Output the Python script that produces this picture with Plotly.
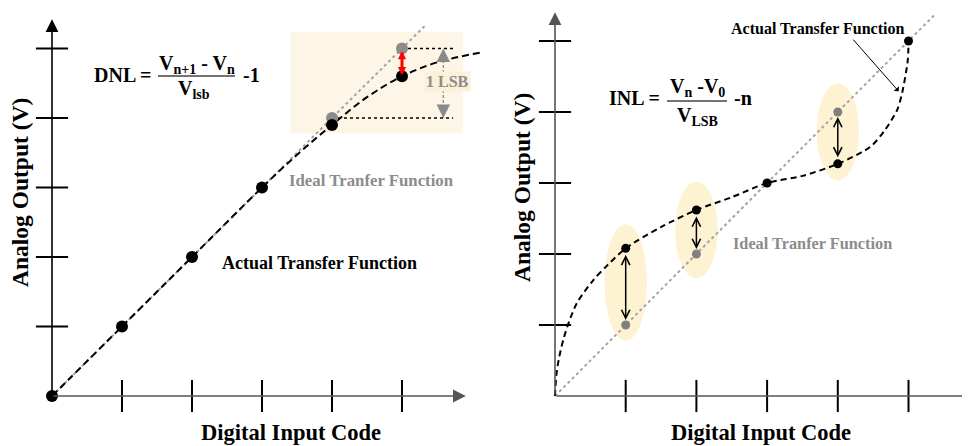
import plotly.graph_objects as go

# page body has an 8px margin: shift everything by OFF
OFF = 8
W, H = 970 - OFF, 446 - OFF

# ---------------- data ----------------
TICKS = [1, 2, 3, 4, 5]

# Left panel (DNL)
DNL_ACTUAL_X = [0, 1, 2, 3, 4, 5]
DNL_ACTUAL_Y = [0, 1, 2, 3, 3.9, 4.6]
DNL_CURVE_X = [0, 1, 2, 3, 3.5, 4, 4.5, 5, 5.5, 6.11]
DNL_CURVE_Y = [0, 1, 2, 3, 3.47, 3.9, 4.3, 4.6, 4.8, 4.94]
DNL_IDEAL_LINE = [0, 5.35]
DNL_IDEAL_PTS_X = [4, 5]
DNL_IDEAL_PTS_Y = [4, 5]
LSB_LEVELS = [4, 5]

# Right panel (INL)
INL_IDEAL_LINE = [0, 5.37]
INL_IDEAL_PTS_X = [1, 2, 4]
INL_IDEAL_PTS_Y = [1, 2, 4]
INL_ACTUAL_X = [1, 2, 3, 4, 5]
INL_ACTUAL_Y = [2.08, 2.62, 3.0, 3.27, 5.0]
INL_CURVE_X = [0, 0.02, 0.06, 0.12, 0.2, 0.31, 0.54, 0.75, 1.0, 1.5, 2.0, 2.5, 3.0, 3.5, 4.0, 4.46, 4.67, 4.84, 4.91, 4.99, 5.0]
INL_CURVE_Y = [0, 0.3, 0.55, 0.8, 1.05, 1.31, 1.63, 1.85, 2.08, 2.38, 2.62, 2.8, 3.0, 3.1, 3.27, 3.51, 3.75, 4.03, 4.27, 4.73, 5.0]

FONT = "Liberation Serif"
GRAY_TXT = "#8C8C8C"
IDEAL_COL = "#A4A4A4"

fig = go.Figure()

def px(x):
    return (x - OFF) / W

def py(y):
    return 1 - (y - OFF) / H

# ---------- axes mapping (reference pixel coordinates) ----------
L_X0, L_Y0, L_SX, L_SY = 52, 396, 70.0, 69.5
R_X0, R_Y0, R_SX, R_SY = 555, 396, 70.7, 71.0
SPLIT = 485

fig.update_layout(
    width=W, height=H,
    margin=dict(l=0, r=0, t=0, b=0),
    paper_bgcolor="white", plot_bgcolor="white",
    showlegend=False,
    xaxis=dict(domain=[0, px(SPLIT)], range=[(OFF - L_X0) / L_SX, (SPLIT - L_X0) / L_SX], visible=False, fixedrange=True),
    yaxis=dict(domain=[0, 1], range=[(L_Y0 - 446) / L_SY, (L_Y0 - OFF) / L_SY], visible=False, fixedrange=True),
    xaxis2=dict(domain=[px(SPLIT), 1], range=[(SPLIT - R_X0) / R_SX, (970 - R_X0) / R_SX], visible=False, fixedrange=True, anchor="y2"),
    yaxis2=dict(domain=[0, 1], range=[(R_Y0 - 446) / R_SY, (R_Y0 - OFF) / R_SY], visible=False, fixedrange=True, anchor="x2"),
)

shapes = []
ann = []

# ---------- LEFT PANEL ----------
shapes.append(dict(type="rect", xref="x", yref="y", x0=3.41, x1=5.87, y0=3.78, y1=5.24,
                   fillcolor="#FDF6E6", line=dict(width=0), layer="below"))

fig.add_trace(go.Scatter(x=DNL_IDEAL_LINE, y=DNL_IDEAL_LINE, mode="lines",
                         line=dict(color=IDEAL_COL, width=2, dash="3px,3px"),
                         xaxis="x", yaxis="y", hoverinfo="skip"))
fig.add_trace(go.Scatter(x=DNL_CURVE_X, y=DNL_CURVE_Y, mode="lines", line_shape="spline",
                         line=dict(color="black", width=2, dash="7px,4px"),
                         xaxis="x", yaxis="y", hoverinfo="skip"))
for lv in LSB_LEVELS:
    fig.add_trace(go.Scatter(x=[lv, 5.73], y=[lv, lv], mode="lines",
                             line=dict(color="black", width=1.3, dash="dot"),
                             xaxis="x", yaxis="y", hoverinfo="skip"))
fig.add_trace(go.Scatter(x=[5.59, 5.59], y=LSB_LEVELS, mode="lines",
                         line=dict(color="#8A8A8A", width=1.3, dash="3px,2px"),
                         xaxis="x", yaxis="y", hoverinfo="skip"))
for lv, off in zip(LSB_LEVELS, [-14, 14]):
    ann.append(dict(x=5.59, y=lv, xref="x", yref="y", ax=0, ay=off, axref="pixel", ayref="pixel",
                    text="", showarrow=True, arrowhead=2, arrowsize=1.5, arrowwidth=1.8,
                    arrowcolor="#8A8A8A", standoff=0))
fig.add_trace(go.Scatter(x=DNL_IDEAL_PTS_X, y=DNL_IDEAL_PTS_Y, mode="markers",
                         marker=dict(color="#8C8C8C", size=12),
                         xaxis="x", yaxis="y", hoverinfo="skip"))
fig.add_trace(go.Scatter(x=DNL_ACTUAL_X, y=DNL_ACTUAL_Y, mode="markers",
                         marker=dict(color="black", size=12),
                         xaxis="x", yaxis="y", hoverinfo="skip"))
fig.add_trace(go.Scatter(x=TICKS, y=[0] * len(TICKS), mode="markers",
                         marker=dict(symbol="line-ns", size=23, line=dict(color="black", width=2)),
                         xaxis="x", yaxis="y", hoverinfo="skip"))
fig.add_trace(go.Scatter(x=[0] * len(TICKS), y=TICKS, mode="markers",
                         marker=dict(symbol="line-ew", size=23, line=dict(color="black", width=2)),
                         xaxis="x", yaxis="y", hoverinfo="skip"))
ann.append(dict(x=(470 - L_X0) / L_SX - 0.06, y=0, ax=0, ay=0, xref="x", yref="y", axref="x", ayref="y",
                text="", showarrow=True, arrowhead=2, arrowsize=1.6, arrowwidth=1.6, arrowcolor="#555555", standoff=0))
ann.append(dict(x=0, y=(L_Y0 - 15) / L_SY - 0.06, ax=0, ay=0, xref="x", yref="y", axref="x", ayref="y",
                text="", showarrow=True, arrowhead=2, arrowsize=1.6, arrowwidth=1.6, arrowcolor="black", standoff=0))
# red DNL arrow between ideal (5) and actual value at code 5
ann.append(dict(x=5, y=DNL_ACTUAL_Y[5], ax=5, ay=DNL_IDEAL_PTS_Y[1], xref="x", yref="y", axref="x", ayref="y",
                text="", showarrow=True, arrowhead=2, startarrowhead=2, arrowside="end+start",
                arrowsize=0.55, startarrowsize=0.55, arrowwidth=3, arrowcolor="#FF0000", standoff=1, startstandoff=1))

# ---------- RIGHT PANEL ----------
ELLIPSES = [(1, 1.6, 0.30, 0.82), (2, 2.34, 0.30, 0.68), (4, 3.72, 0.30, 0.68)]
for cx, cy, rx, ry in ELLIPSES:
    shapes.append(dict(type="circle", xref="x2", yref="y2", x0=cx - rx, x1=cx + rx, y0=cy - ry, y1=cy + ry,
                       fillcolor="#FDF3D3", line=dict(width=0), layer="below"))

fig.add_trace(go.Scatter(x=INL_IDEAL_LINE, y=INL_IDEAL_LINE, mode="lines",
                         line=dict(color=IDEAL_COL, width=2, dash="3px,3px"),
                         xaxis="x2", yaxis="y2", hoverinfo="skip"))
fig.add_trace(go.Scatter(x=INL_CURVE_X, y=INL_CURVE_Y, mode="lines", line_shape="spline",
                         line=dict(color="black", width=2, dash="6px,4px", smoothing=0.8),
                         xaxis="x2", yaxis="y2", hoverinfo="skip"))
fig.add_trace(go.Scatter(x=INL_IDEAL_PTS_X, y=INL_IDEAL_PTS_Y, mode="markers",
                         marker=dict(color="#808080", size=9),
                         xaxis="x2", yaxis="y2", hoverinfo="skip"))
fig.add_trace(go.Scatter(x=INL_ACTUAL_X, y=INL_ACTUAL_Y, mode="markers",
                         marker=dict(color="black", size=9),
                         xaxis="x2", yaxis="y2", hoverinfo="skip"))
fig.add_trace(go.Scatter(x=TICKS, y=[0] * len(TICKS), mode="markers",
                         marker=dict(symbol="line-ns", size=23, line=dict(color="black", width=2)),
                         xaxis="x2", yaxis="y2", hoverinfo="skip"))
fig.add_trace(go.Scatter(x=[0] * len(TICKS), y=TICKS, mode="markers",
                         marker=dict(symbol="line-ew", size=23, line=dict(color="black", width=2)),
                         xaxis="x2", yaxis="y2", hoverinfo="skip"))
ann.append(dict(x=(978 - R_X0) / R_SX, y=0, ax=0, ay=0, xref="x2", yref="y2", axref="x2", ayref="y2",
                text="", showarrow=True, arrowhead=2, arrowsize=1.6, arrowwidth=1.6, arrowcolor="#555555", standoff=0))
ann.append(dict(x=0, y=(R_Y0 - 8) / R_SY - 0.06, ax=0, ay=0, xref="x2", yref="y2", axref="x2", ayref="y2",
                text="", showarrow=True, arrowhead=2, arrowsize=1.6, arrowwidth=1.6, arrowcolor="#555555", standoff=0))
for xi, yi in zip(INL_IDEAL_PTS_X, INL_IDEAL_PTS_Y):
    ya = INL_ACTUAL_Y[INL_ACTUAL_X.index(xi)]
    ann.append(dict(x=xi, y=yi, ax=xi, ay=ya, xref="x2", yref="y2", axref="x2", ayref="y2",
                    text="", showarrow=True, arrowhead=5, startarrowhead=5, arrowside="end+start",
                    arrowsize=1.1, startarrowsize=1.1, arrowwidth=1.5, arrowcolor="black",
                    standoff=5, startstandoff=5))
ann.append(dict(x=4.88, y=4.27, ax=4.2, ay=5.04, xref="x2", yref="y2", axref="x2", ayref="y2",
                text="", showarrow=True, arrowhead=1, arrowsize=1.2, arrowwidth=1, arrowcolor="black", standoff=2))

# ---------- TEXT ----------
def t(text, x, y, size, color="black", angle=0, bg=None):
    d = dict(text=text, x=px(x), y=py(y), xref="paper", yref="paper", showarrow=False,
             xanchor="center", yanchor="middle", textangle=angle,
             font=dict(family=FONT, size=size, color=color))
    if bg:
        d["bgcolor"] = bg
    ann.append(d)

t("<b>DNL =</b>", 123, 75, 20)
t("<b>V<sub>n+1</sub> - V<sub>n</sub></b>", 197, 64, 20)
t("<b>V<sub>lsb</sub></b>", 194, 90, 20)
t("<b>-1</b>", 251, 75, 20)
shapes.append(dict(type="line", xref="paper", yref="paper", x0=px(158), x1=px(235), y0=py(76), y1=py(76),
                   line=dict(color="#444444", width=1.3)))
t("<b>INL =</b>", 634, 98, 20)
t("<b>V<sub>n</sub> -V<sub>0</sub></b>", 697, 87, 20)
t("<b>V<sub>LSB</sub></b>", 697, 116, 20)
t("<b>-n</b>", 743, 98, 20)
shapes.append(dict(type="line", xref="paper", yref="paper", x0=px(667), x1=px(727), y0=py(101), y1=py(101),
                   line=dict(color="#444444", width=1.3)))

t("<b>1 LSB</b>", 447, 82, 16, GRAY_TXT, bg="#FBF0D8")
t("<b>Ideal Tranfer Function</b>", 371, 180, 16.8, GRAY_TXT)
t("<b>Actual Transfer Function</b>", 319, 263, 18)
t("<b>Ideal Tranfer Function</b>", 812, 243, 16.3, GRAY_TXT)
t("<b>Actual Transfer Function</b>", 817, 28, 16)

t("<b>Analog Output (V)</b>", 20, 193, 23.5, angle=-90)
t("<b>Analog Output (V)</b>", 522, 188, 23.5, angle=-90)
t("<b>Digital Input Code</b>", 291, 432, 22.5)
t("<b>Digital Input Code</b>", 761, 432, 22.5)

fig.update_layout(shapes=shapes, annotations=ann)
fig.write_html("out.html")
